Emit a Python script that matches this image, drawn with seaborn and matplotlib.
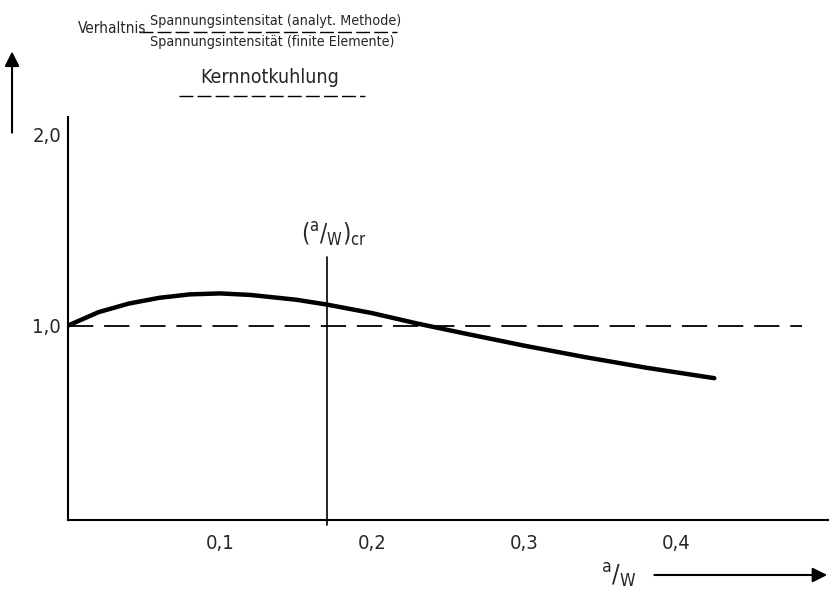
import matplotlib.pyplot as plt
from matplotlib import font_manager
import seaborn as sns
import pandas as pd

# curve: ratio vs a/W
a_w = [0.0, 0.02, 0.04, 0.06, 0.08, 0.10, 0.12, 0.15, 0.17, 0.20, 0.23, 0.26, 0.30, 0.34, 0.38, 0.425]
ratio = [1.00, 1.07, 1.115, 1.145, 1.163, 1.168, 1.16, 1.135, 1.11, 1.065, 1.01, 0.96, 0.895, 0.835, 0.78, 0.725]
x_ticks = [0.1, 0.2, 0.3, 0.4]
x_tick_labels = ['0,1', '0,2', '0,3', '0,4']
y_ticks = [1.0, 2.0]
y_tick_labels = ['1,0', '2,0']
a_w_cr = 0.17

sns.set_style('white')

# look for a narrow face, the drawing uses a condensed lettering
narrow = [f for f in font_manager.fontManager.ttflist
          if ('Narrow' in f.name or 'Condensed' in f.name or f.stretch in ('condensed', 'semi-condensed'))
          and f.style == 'normal']
if narrow:
    fam, stretch, k = narrow[0].name, narrow[0].stretch, 1.0
else:
    fam, stretch, k = 'Liberation Sans', 'normal', 0.78
plt.rcParams['font.family'] = [fam, 'DejaVu Sans']
plt.rcParams['font.stretch'] = stretch
plt.rcParams['mathtext.fontset'] = 'custom'
plt.rcParams['mathtext.rm'] = fam
plt.rcParams['mathtext.it'] = fam

df = pd.DataFrame({'a_w': a_w, 'ratio': ratio})

fig = plt.figure(figsize=(8.3, 5.94), dpi=100)
ax = fig.add_axes([0.082, 0.125, 0.916, 0.678])

sns.lineplot(data=df, x='a_w', y='ratio', ax=ax, color='black', linewidth=3.2)
ax.axhline(1.0, xmin=0, xmax=0.965, color='black', linewidth=1.3, dashes=(14, 6))
ax.plot([a_w_cr, a_w_cr], [-0.04, 1.36], color='black', linewidth=1.2, clip_on=False)
ax.text(a_w_cr + 0.005, 1.40, r'$(^{a}/_{W})_{cr}$', fontsize=17, ha='center', va='bottom')

ax.set_xlim(0, 0.5)
ax.set_ylim(-0.015, 2.09)
ax.set_xticks(x_ticks)
ax.set_xticklabels(x_tick_labels, fontsize=14.5 * k)
ax.set_yticks(y_ticks)
ax.set_yticklabels(y_tick_labels, fontsize=14.5 * k)
ax.tick_params(axis='x', direction='inout', length=8, width=1, pad=6)
ax.tick_params(axis='y', direction='out', length=4, width=1, pad=1)
ax.set_xlabel('')
ax.set_ylabel('')
for side in ['top', 'right']:
    ax.spines[side].set_visible(False)
for side in ['left', 'bottom']:
    ax.spines[side].set_color('black')
    ax.spines[side].set_linewidth(1.5)

# heading
fig.text(0.094, 0.952, 'Verhaltnis', fontsize=11 * k, va='center')
fig.text(0.181, 0.964, 'Spannungsintensitat (analyt. Methode)', fontsize=10.3 * k, va='center')
fig.text(0.181, 0.929, 'Spannungsintensität (finite Elemente)', fontsize=10.3 * k, va='center')
fig.add_artist(plt.Line2D([0.168, 0.478], [0.946, 0.946], color='black', linewidth=1, dashes=(10, 3)))
fig.text(0.325, 0.870, 'Kernnotkuhlung', fontsize=14 * k, va='center', ha='center')
fig.add_artist(plt.Line2D([0.216, 0.44], [0.838, 0.838], color='black', linewidth=1, dashes=(10, 3)))

# axis arrows
fig.text(0.746, 0.03, r'$^{a}/_{W}$', fontsize=18, ha='center', va='center')
ax.annotate('', xy=(1.0, 0.032), xytext=(0.785, 0.032), xycoords='figure fraction',
            arrowprops=dict(arrowstyle='-|>', color='black', lw=1.5, mutation_scale=22))
ax.annotate('', xy=(0.0145, 0.918), xytext=(0.0145, 0.772), xycoords='figure fraction',
            arrowprops=dict(arrowstyle='-|>', color='black', lw=1.5, mutation_scale=22))

fig.savefig('out.png', dpi=100)
